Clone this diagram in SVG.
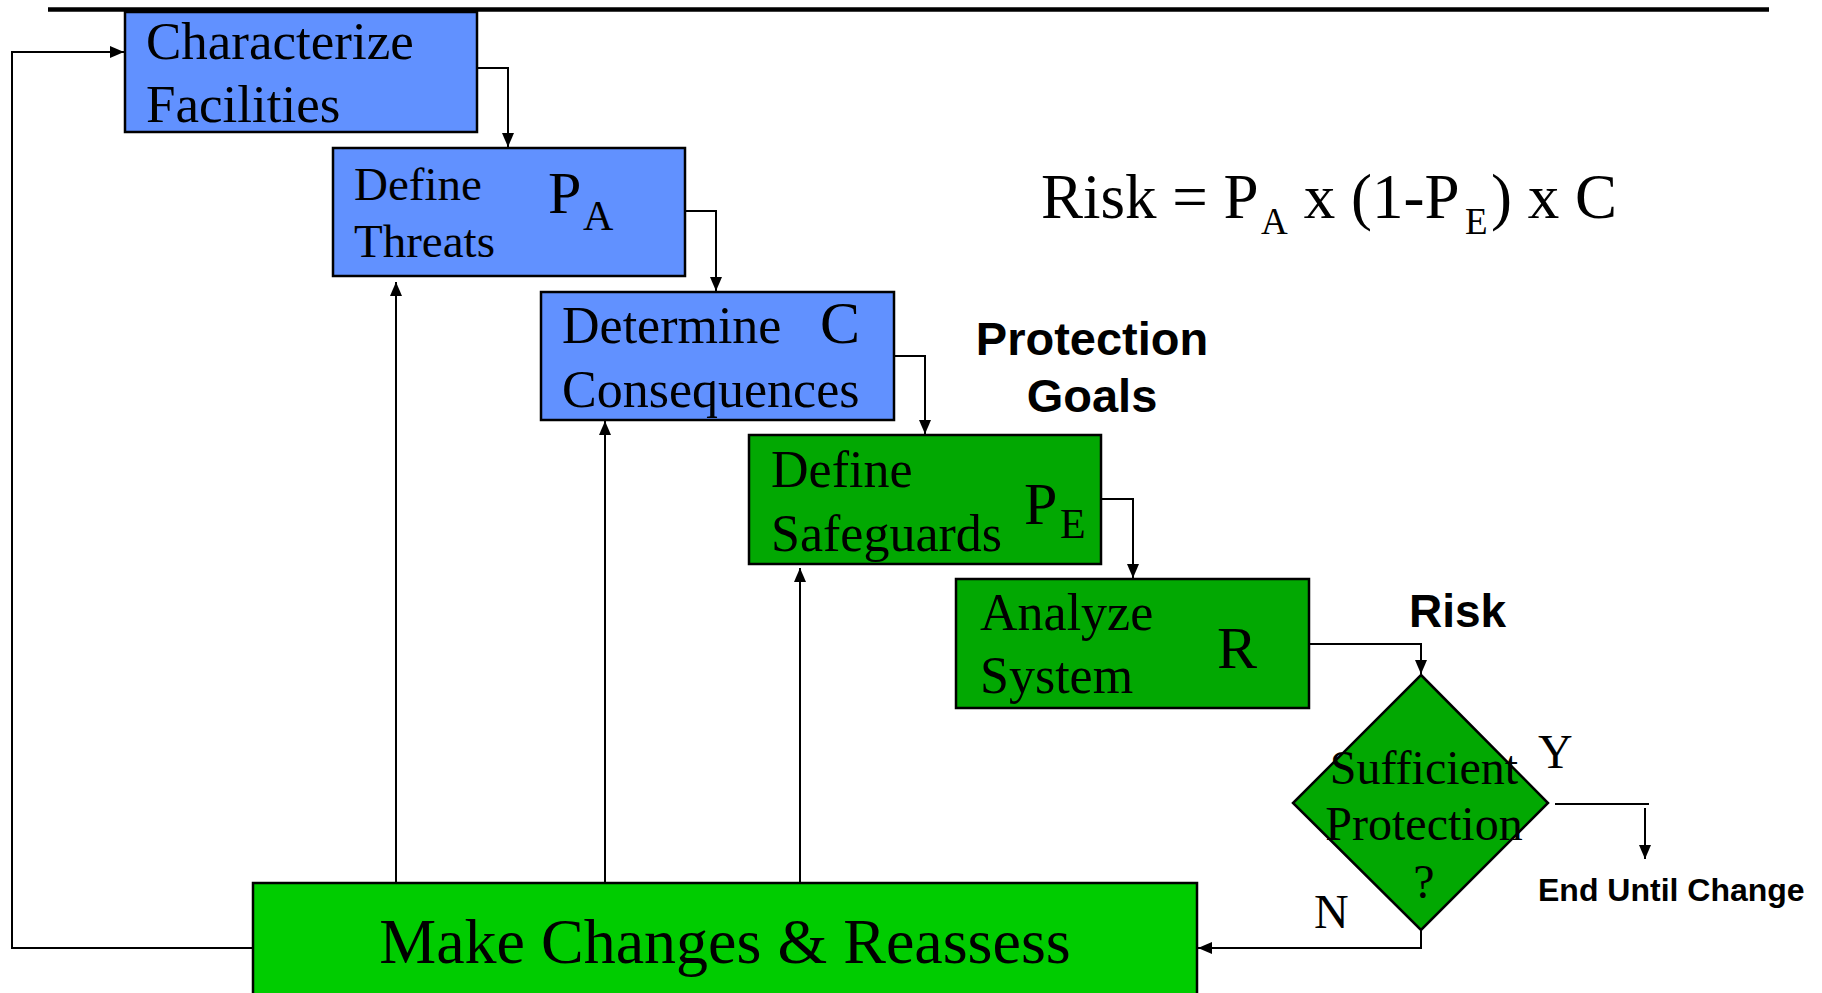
<svg xmlns="http://www.w3.org/2000/svg" width="1822" height="993" viewBox="0 0 1822 993">
<style>
.bg{fill:#ffffff}
.blue{fill:#6191FF;stroke:#000;stroke-width:2.5}
.green{fill:#02A802;stroke:#000;stroke-width:2.5}
.bright{fill:#00CC00;stroke:#000;stroke-width:2.5}
.t{font-family:"Liberation Serif","Times New Roman",serif;fill:#000}
.b{font-family:"Liberation Sans",Arial,sans-serif;font-weight:bold;fill:#000}
.c{fill:none;stroke:#000;stroke-width:2}
</style>
<defs>
<marker id="ah" markerUnits="userSpaceOnUse" markerWidth="14" markerHeight="12" refX="14" refY="6" orient="auto">
<path d="M0,0 L14,6 L0,12 z" fill="#000"/>
</marker>
</defs>
<rect class="bg" x="0" y="0" width="1822" height="993"/>
<line x1="48" y1="9.5" x2="1769" y2="9.5" stroke="#000" stroke-width="4.5"/>

<g id="connectors">
<path class="c" d="M477,68 H508 V147" marker-end="url(#ah)"/>
<path class="c" d="M685,211 H716 V291" marker-end="url(#ah)"/>
<path class="c" d="M894,356 H925 V434" marker-end="url(#ah)"/>
<path class="c" d="M1101,499 H1133 V578" marker-end="url(#ah)"/>
<path class="c" d="M1309,644 H1421 V674" marker-end="url(#ah)"/>
<path class="c" d="M1555,804 H1649"/>
<path class="c" d="M1645,808 V859" marker-end="url(#ah)"/>
<path class="c" d="M1421,930 V948 H1198" marker-end="url(#ah)"/>
<path class="c" d="M253,948 H12 V52 H124" marker-end="url(#ah)"/>
<path class="c" d="M396,883 V282" marker-end="url(#ah)"/>
<path class="c" d="M605,882 V421" marker-end="url(#ah)"/>
<path class="c" d="M800,883 V568" marker-end="url(#ah)"/>
</g>

<g id="characterize">
<rect class="blue" x="125" y="12" width="352" height="120"/>
<text class="t" x="146" y="59" font-size="53">Characterize</text>
<text class="t" x="146" y="122" font-size="53">Facilities</text>
</g>

<g id="threats">
<rect class="blue" x="333" y="148" width="352" height="128"/>
<text class="t" x="354" y="200" font-size="47">Define</text>
<text class="t" x="354" y="257" font-size="47">Threats</text>
<text class="t" x="548" y="213" font-size="60">P</text>
<text class="t" x="583" y="230" font-size="42">A</text>
</g>

<g id="consequences">
<rect class="blue" x="541" y="292" width="353" height="128"/>
<text class="t" x="562" y="343" font-size="52">Determine</text>
<text class="t" x="820" y="343" font-size="60">C</text>
<text class="t" x="562" y="407" font-size="52">Consequences</text>
</g>

<g id="safeguards">
<rect class="green" x="749" y="435" width="352" height="129"/>
<text class="t" x="771" y="487" font-size="52">Define</text>
<text class="t" x="771" y="551" font-size="52">Safeguards</text>
<text class="t" x="1024" y="524" font-size="60">P</text>
<text class="t" x="1060" y="538" font-size="42">E</text>
</g>

<g id="analyze">
<rect class="green" x="956" y="579" width="353" height="129"/>
<text class="t" x="980" y="630" font-size="52">Analyze</text>
<text class="t" x="980" y="693" font-size="52">System</text>
<text class="t" x="1217" y="668" font-size="60">R</text>
</g>

<g id="decision">
<polygon class="green" points="1421,675 1548,803 1421,930 1293,803"/>
<text class="t" x="1424" y="784" font-size="48" text-anchor="middle">Sufficient</text>
<text class="t" x="1424" y="840" font-size="48" text-anchor="middle">Protection</text>
<text class="t" x="1424" y="898" font-size="48" text-anchor="middle">?</text>
</g>

<g id="reassess">
<rect class="bright" x="253" y="883" width="944" height="120"/>
<text class="t" x="725" y="963" font-size="64" text-anchor="middle">Make Changes &amp; Reassess</text>
</g>

<g id="labels">
<text class="t" x="1041" y="218" font-size="63">Risk = P</text>
<text class="t" x="1261" y="234" font-size="37">A</text>
<text class="t" x="1288" y="218" font-size="63" xml:space="preserve"> x (1-P</text>
<text class="t" x="1465" y="234" font-size="37">E</text>
<text class="t" x="1491" y="218" font-size="63" xml:space="preserve">) x C</text>
<text class="b" x="1092" y="355" font-size="47" text-anchor="middle">Protection</text>
<text class="b" x="1092" y="412" font-size="47" text-anchor="middle">Goals</text>
<text class="b" x="1409" y="627" font-size="46">Risk</text>
<text class="t" x="1538" y="768" font-size="48">Y</text>
<text class="t" x="1314" y="928" font-size="48">N</text>
<text class="b" x="1538" y="901" font-size="32">End Until Change</text>
</g>
</svg>
